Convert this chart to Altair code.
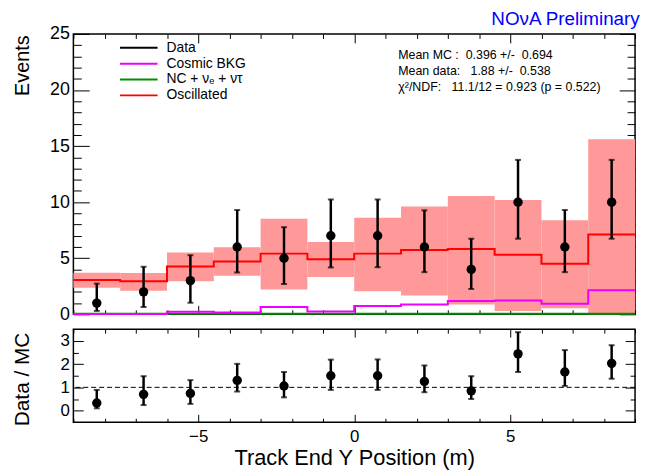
import altair as alt
import pandas as pd

FONT = "Liberation Sans"

# ---------------- data ----------------
bin_lo = [-9.0, -7.5, -6.0, -4.5, -3.0, -1.5, 0.0, 1.5, 3.0, 4.5, 6.0, 7.5]
bin_hi = [-7.5, -6.0, -4.5, -3.0, -1.5, 0.0, 1.5, 3.0, 4.5, 6.0, 7.5, 9.0]
bin_center = [-8.25, -6.75, -5.25, -3.75, -2.25, -0.75, 0.75, 2.25, 3.75, 5.25, 6.75, 8.25]

oscillated = [3.06, 2.94, 4.26, 4.70, 5.41, 4.91, 5.41, 5.74, 5.82, 5.30, 4.50, 7.12]
syst_lo = [2.36, 2.09, 2.94, 3.44, 2.20, 3.33, 2.06, 1.68, 0.88, 0.30, 0.53, 0.00]
syst_hi = [3.70, 3.68, 5.50, 5.97, 8.53, 6.44, 8.62, 9.62, 10.56, 10.20, 8.38, 15.62]
cosmic = [0.02, 0.02, 0.23, 0.15, 0.65, 0.24, 0.73, 0.88, 1.18, 1.24, 0.94, 2.15]
nc_bkg = [0.05, 0.05, 0.05, 0.05, 0.05, 0.05, 0.05, 0.05, 0.05, 0.05, 0.05, 0.05]

data_n = [1, 2, 3, 6, 5, 7, 7, 6, 4, 10, 6, 10]
data_lo = [0.30, 0.65, 1.03, 3.73, 2.70, 4.18, 4.20, 3.76, 2.26, 6.74, 3.76, 6.74]
data_hi = [2.74, 4.24, 5.27, 9.30, 7.77, 10.24, 10.24, 9.27, 6.74, 13.77, 9.30, 13.77]

ratio = [0.33, 0.70, 0.74, 1.30, 1.06, 1.50, 1.50, 1.25, 0.85, 2.44, 1.66, 2.03]
ratio_lo = [0.10, 0.24, 0.29, 0.82, 0.57, 0.89, 0.89, 0.79, 0.50, 1.66, 1.06, 1.37]
ratio_hi = [0.89, 1.48, 1.31, 2.01, 1.66, 2.19, 2.20, 1.94, 1.48, 3.37, 2.60, 2.81]

series_names = ["Data", "Cosmic BKG", "NC + νₑ + ντ", "Oscillated"]
series_colors = ["#000000", "#ee00ff", "#008f00", "#ff0000"]

stats_lines = [
    "Mean MC :\u00a0 0.396 +/-\u00a0 0.694",
    "Mean data:\u00a0\u00a0 1.88 +/-\u00a0 0.538",
    "χ²/NDF:\u00a0\u00a0 11.1/12 = 0.923 (p = 0.522)",
]

x_tick_values = list(range(-9, 10))
y_top_tick_values = list(range(0, 26))
y_bot_tick_values = [0, 0.5, 1, 1.5, 2, 2.5, 3]

# ---------------- tables ----------------
bins = pd.DataFrame({
    "lo": bin_lo, "hi": bin_hi, "center": bin_center,
    "syst_lo": syst_lo, "syst_hi": syst_hi,
    "n": data_n, "n_lo": data_lo, "n_hi": data_hi,
    "r": ratio, "r_lo": ratio_lo, "r_hi": ratio_hi,
})

step_rows = []
for name, vals in [(series_names[2], nc_bkg), (series_names[1], cosmic), (series_names[3], oscillated)]:
    for lo, v in zip(bin_lo, vals):
        step_rows.append({"series": name, "x": lo, "y": v})
    step_rows.append({"series": name, "x": bin_hi[-1], "y": vals[-1]})
steps = pd.DataFrame(step_rows)

# ---------------- scales / axes ----------------
xscale = alt.Scale(domain=[-9, 9], nice=False, zero=False)
ytop = alt.Scale(domain=[0, 25], nice=False, zero=False)
ybot = alt.Scale(domain=[-0.5, 3.5], nice=False, zero=False)


def tsize(major, minor, test):
    return {"condition": {"test": test, "value": -major}, "value": -minor}


X_MAJ = "datum.value % 5 === 0"
Y5_MAJ = "datum.value % 5 === 0"
Y1_MAJ = "datum.value % 1 === 0"

common = dict(domain=False, grid=False, tickColor="black", tickWidth=1,
              labelFlush=False, labelOverlap=False)

ax_top_bottom = alt.Axis(orient="bottom", values=x_tick_values, labels=False, title=None,
                         tickSize=tsize(9, 4.5, X_MAJ), **common)
ax_top_top = alt.Axis(orient="top", values=x_tick_values, labels=False, title=None,
                      tickSize=tsize(9, 4.5, X_MAJ), **common)
ax_top_left = alt.Axis(orient="left", values=y_top_tick_values,
                       labelExpr="datum.value % 5 === 0 ? datum.label : ''",
                       tickSize=tsize(16, 8, Y5_MAJ), labelPadding=20, labelFontSize=18,
                       title="Events", titleFontSize=20, titleAngle=270, titleAlign="right",
                       titleBaseline="middle", titleX=-51, titleY=1, **common)
ax_top_right = alt.Axis(orient="right", values=y_top_tick_values, labels=False, title=None,
                        tickSize=tsize(16, 8, Y5_MAJ), **common)

ax_bot_bottom = alt.Axis(orient="bottom", values=x_tick_values, format=".0f",
                         labelExpr="datum.value % 5 === 0 ? datum.label : ''",
                         tickSize=tsize(8, 4, X_MAJ), labelPadding=14, labelFontSize=17,
                         title="Track End Y Position (m)", titleFontSize=22, titlePadding=0,
                         **common)
ax_bot_top = alt.Axis(orient="top", values=x_tick_values, labels=False, title=None,
                      tickSize=tsize(8, 4, X_MAJ), **common)
ax_bot_left = alt.Axis(orient="left", values=y_bot_tick_values, format=".0f",
                       labelExpr="datum.value % 1 === 0 ? datum.label : ''",
                       tickSize=tsize(10, 5, Y1_MAJ), labelPadding=14, labelFontSize=17,
                       title="Data / MC", titleFontSize=21, titleAngle=270, titleAlign="right",
                       titleBaseline="middle", titleX=-51, titleY=3, **common)
ax_bot_right = alt.Axis(orient="right", values=y_bot_tick_values, labels=False, title=None,
                        tickSize=tsize(10, 5, Y1_MAJ), **common)

# ---------------- top panel ----------------
base = alt.Chart(bins)

band = base.mark_rect(color="#ff9999").encode(
    x=alt.X("lo:Q", scale=xscale, axis=ax_top_bottom),
    x2="hi:Q",
    y=alt.Y("syst_lo:Q", scale=ytop, axis=ax_top_left),
    y2="syst_hi:Q",
)

lines = alt.Chart(steps).mark_line(interpolate="step-after", strokeWidth=2).encode(
    x=alt.X("x:Q", scale=xscale, axis=ax_top_top),
    y=alt.Y("y:Q", scale=ytop, axis=ax_top_right),
    color=alt.Color(
        "series:N",
        scale=alt.Scale(domain=series_names, range=series_colors),
        legend=alt.Legend(
            title=None, orient="none", legendX=59, legendY=7, padding=0,
            symbolType="M-4,0H4", symbolSize=90, symbolStrokeWidth=2,
            labelFontSize=14, labelFont=FONT, labelColor="black",
            labelOffset=21, rowPadding=2,
        ),
    ),
)

err = base.mark_rule(color="black", strokeWidth=2.5).encode(
    x=alt.X("center:Q", scale=xscale, axis=None),
    y=alt.Y("n_lo:Q", scale=ytop, axis=None),
    y2="n_hi:Q",
)
cap_lo = base.mark_tick(orient="horizontal", size=6, thickness=2, color="black").encode(
    x=alt.X("center:Q", scale=xscale, axis=None),
    y=alt.Y("n_lo:Q", scale=ytop, axis=None),
)
cap_hi = base.mark_tick(orient="horizontal", size=6, thickness=2, color="black").encode(
    x=alt.X("center:Q", scale=xscale, axis=None),
    y=alt.Y("n_hi:Q", scale=ytop, axis=None),
)
pts = base.mark_circle(size=90, color="black", opacity=1).encode(
    x=alt.X("center:Q", scale=xscale, axis=None),
    y=alt.Y("n:Q", scale=ytop, axis=None),
)

stats = alt.Chart(pd.DataFrame({"t": ["\n".join(stats_lines)]})).mark_text(
    align="left", baseline="middle", fontSize=12.5, font=FONT, color="black",
    lineBreak="\n", lineHeight=16.5,
).encode(x=alt.value(328), y=alt.value(21), text="t:N")

top = alt.layer(band, lines, err, cap_lo, cap_hi, pts, stats).resolve_axis(
    x="independent", y="independent"
).properties(width=567, height=283)

# ---------------- bottom panel ----------------
unity = alt.Chart(pd.DataFrame({"one": [1]})).mark_rule(
    color="black", strokeWidth=1, strokeDash=[5, 3]
).encode(y=alt.Y("one:Q", scale=ybot, axis=None))

rerr = base.mark_rule(color="black", strokeWidth=2.5).encode(
    x=alt.X("center:Q", scale=xscale, axis=ax_bot_bottom),
    y=alt.Y("r_lo:Q", scale=ybot, axis=ax_bot_left),
    y2="r_hi:Q",
)
rcap_lo = base.mark_tick(orient="horizontal", size=6, thickness=2, color="black").encode(
    x=alt.X("center:Q", scale=xscale, axis=None),
    y=alt.Y("r_lo:Q", scale=ybot, axis=None),
)
rcap_hi = base.mark_tick(orient="horizontal", size=6, thickness=2, color="black").encode(
    x=alt.X("center:Q", scale=xscale, axis=None),
    y=alt.Y("r_hi:Q", scale=ybot, axis=None),
)
rpts = base.mark_circle(size=90, color="black", opacity=1).encode(
    x=alt.X("center:Q", scale=xscale, axis=ax_bot_top),
    y=alt.Y("r:Q", scale=ybot, axis=ax_bot_right),
)

bottom = alt.layer(unity, rerr, rcap_lo, rcap_hi, rpts).resolve_axis(
    x="independent", y="independent"
).properties(width=567, height=94)

chart = alt.vconcat(top, bottom, spacing=3).properties(
    title=alt.TitleParams("NOνA Preliminary", anchor="end", fontSize=19, font=FONT,
                          color="#0000ff", fontWeight="normal", offset=-5),
    padding={"left": 3, "top": 0, "right": 0, "bottom": 0},
).configure_view(stroke="black", strokeWidth=1.5).configure_axis(
    labelFont=FONT, titleFont=FONT, labelColor="black", titleColor="black",
    titleFontWeight="normal",
).configure_legend(labelFont=FONT)

chart.save("out.html", embed_options={"renderer": "svg", "actions": False})
